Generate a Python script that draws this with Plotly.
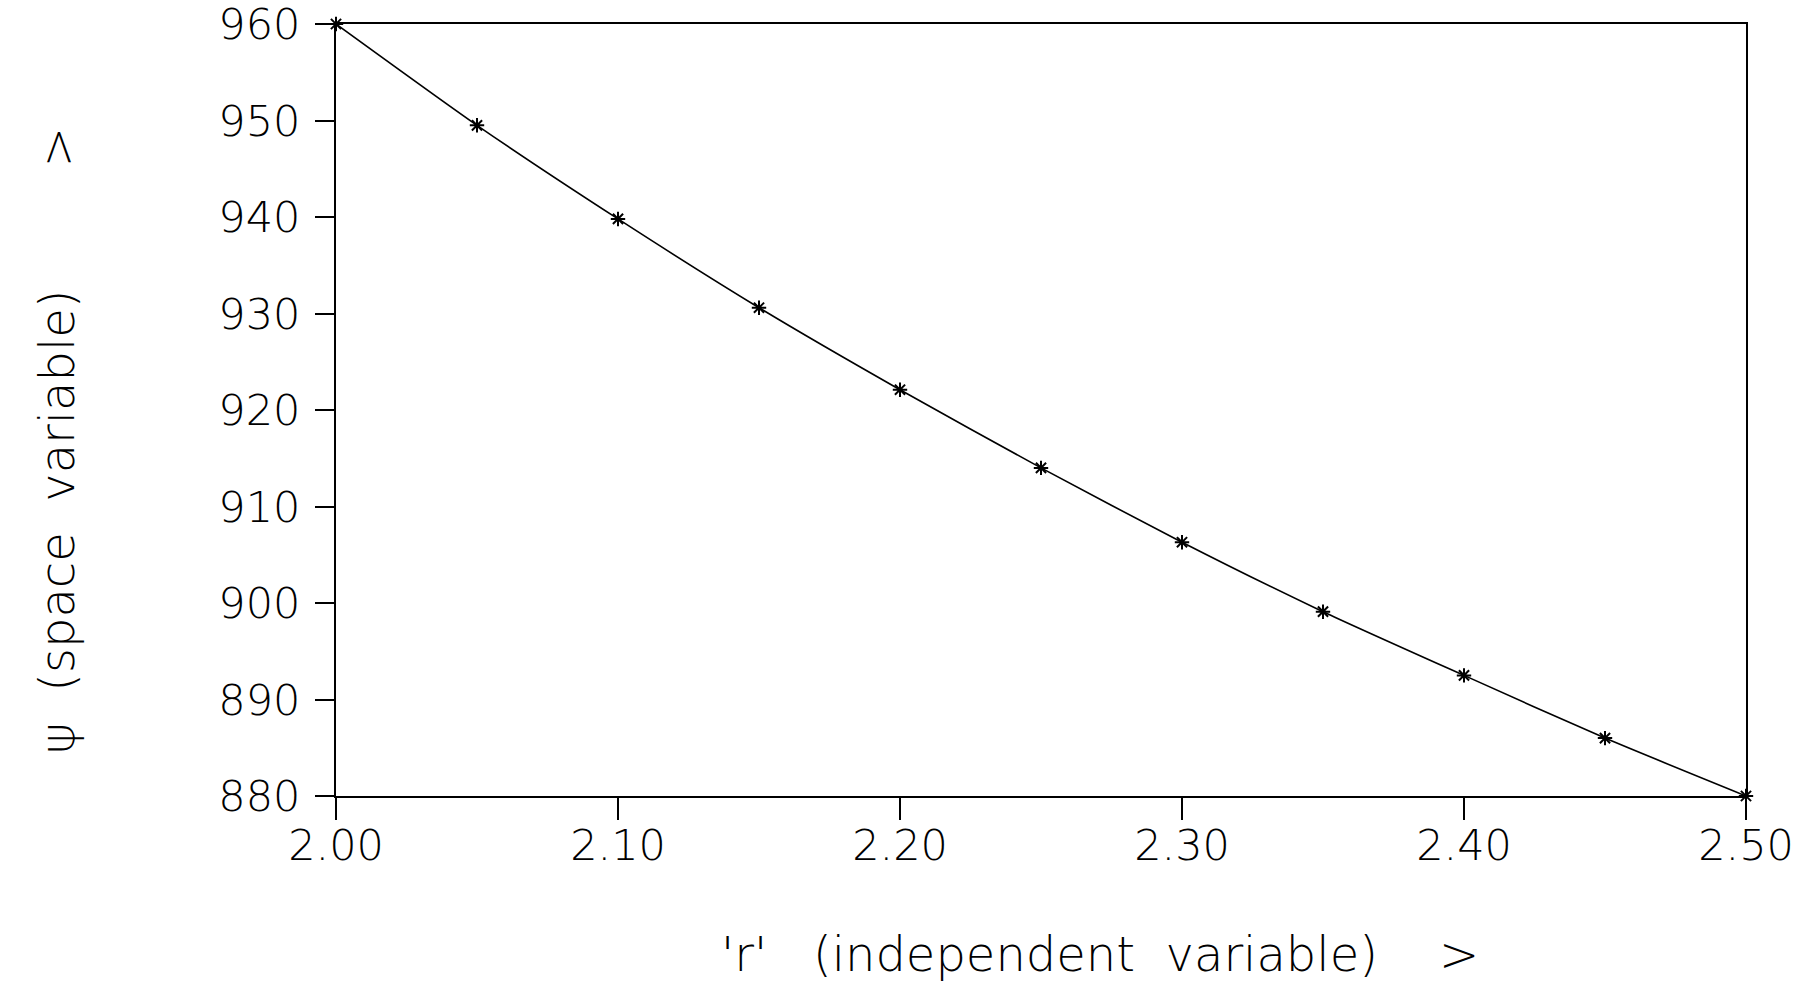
import plotly.graph_objects as go

r_values = [2.00, 2.05, 2.10, 2.15, 2.20, 2.25, 2.30, 2.35, 2.40, 2.45, 2.50]
psi_values = [960.0, 949.5, 939.8, 930.6, 922.1, 914.0, 906.3, 899.1, 892.5, 886.0, 880.0]

x_ticks = [2.0, 2.1, 2.2, 2.3, 2.4, 2.5]
x_tick_labels = ["2.00", "2.10", "2.20", "2.30", "2.40", "2.50"]
y_ticks = [880, 890, 900, 910, 920, 930, 940, 950, 960]
y_tick_labels = [str(v) for v in y_ticks]

FONT = "DejaVu Sans, Lato, sans-serif"
TICK_SIZE = 43
TITLE_SIZE = 48

L, R, T, B = 336, 59, 24, 193
W, H = 1805, 989

fig = go.Figure()
fig.add_trace(go.Scatter(
    x=r_values, y=psi_values,
    mode="lines+markers",
    line=dict(color="black", width=1.6, shape="spline", smoothing=0.6),
    marker=dict(symbol="asterisk-open", size=12, color="black",
                line=dict(color="black", width=2)),
    showlegend=False,
    cliponaxis=False,
))

fig.update_layout(
    width=W, height=H,
    autosize=False,
    margin=dict(l=L, r=R, t=T, b=B, autoexpand=False),
    paper_bgcolor="white",
    plot_bgcolor="white",
    font=dict(family=FONT, color="black", size=TICK_SIZE, weight=200),
    xaxis=dict(
        range=[2.0, 2.5],
        tickvals=x_ticks, ticktext=x_tick_labels,
        showgrid=False, zeroline=False, automargin=False,
        showline=True, linecolor="black", linewidth=2, mirror=True,
        ticks="outside", ticklen=22, tickwidth=2, tickcolor="black",
        ticklabelstandoff=-12, ticklabeloverflow="allow",
        tickfont=dict(family=FONT, size=TICK_SIZE, color="black", weight=200),
    ),
    yaxis=dict(
        range=[880, 960],
        tickvals=y_ticks, ticktext=y_tick_labels,
        showgrid=False, zeroline=False, automargin=False,
        showline=True, linecolor="black", linewidth=2, mirror=True,
        ticks="outside", ticklen=19, tickwidth=2, tickcolor="black",
        ticklabelstandoff=6, ticklabeloverflow="allow",
        tickfont=dict(family=FONT, size=TICK_SIZE, color="black", weight=200),
    ),
    annotations=[
        dict(
            text="'r'   (independent  variable)    >",
            xref="paper", yref="paper",
            x=(1100 - L) / (W - R - L), y=-(954 - (H - B)) / (H - B - T),
            xanchor="center", yanchor="middle",
            showarrow=False,
            font=dict(family=FONT, size=TITLE_SIZE, color="black", weight=200),
        ),
        dict(
            text="ψ  (space  variable)        >",
            xref="paper", yref="paper",
            x=-(L - 57) / (W - R - L), y=((H - B) - 441) / (H - B - T),
            xanchor="center", yanchor="middle",
            textangle=-90,
            showarrow=False,
            font=dict(family=FONT, size=TITLE_SIZE, color="black", weight=200),
        ),
    ],
)

fig.write_html(
    "out.html",
    config={"displayModeBar": False},
    post_script="document.body.style.margin='0';document.body.style.overflow='hidden';",
)
